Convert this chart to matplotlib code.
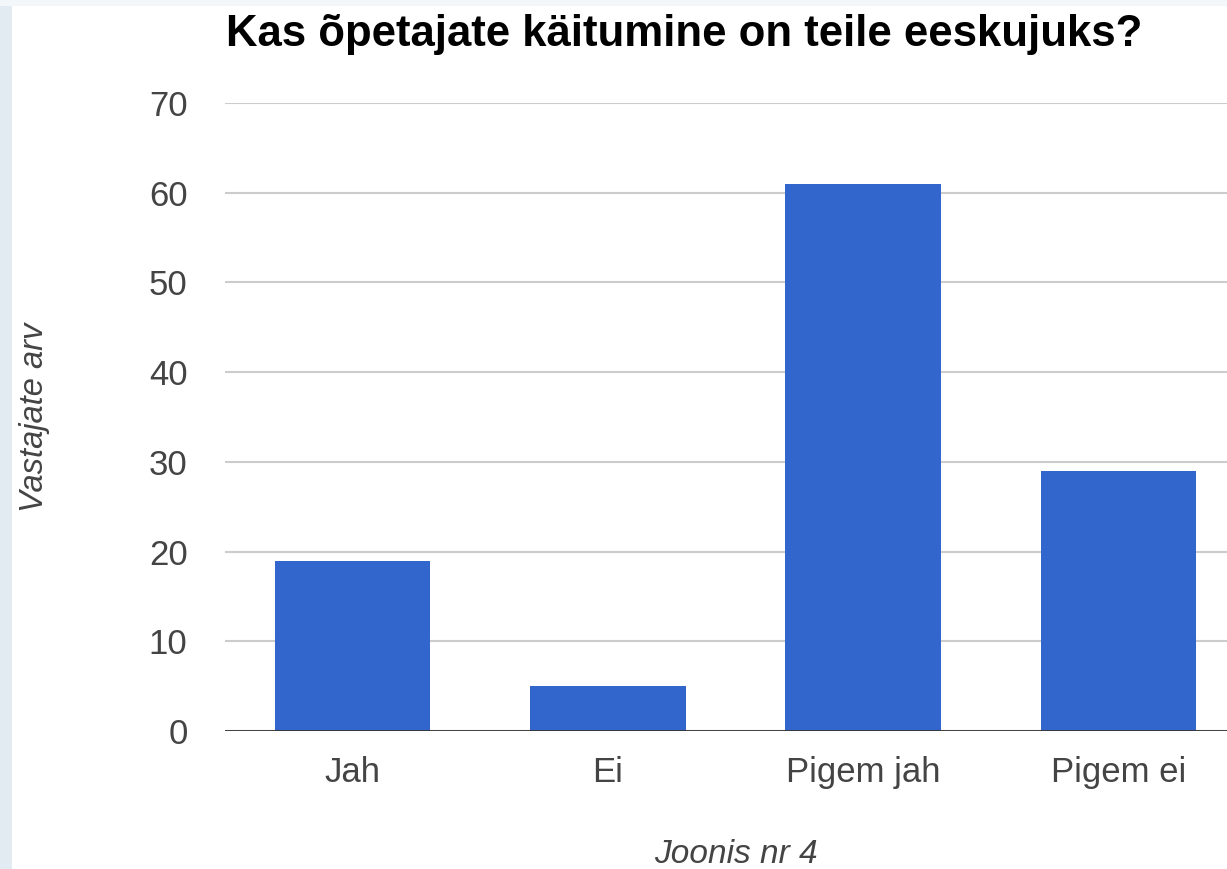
import matplotlib.pyplot as plt
from matplotlib.patches import Rectangle

plt.rcParams['font.family'] = ['Liberation Sans', 'DejaVu Sans']

categories = ['Jah', 'Ei', 'Pigem jah', 'Pigem ei']
values = [19, 5, 61, 29]
yticks = [0, 10, 20, 30, 40, 50, 60, 70]

fig = plt.figure(figsize=(12.27, 8.69), dpi=100)
fig.patch.set_facecolor('white')

# light screenshot edges
fig.patches.append(Rectangle((0, 0), 12 / 1227, 1, transform=fig.transFigure,
                             facecolor='#e1ebf1', edgecolor='none', zorder=0))
fig.patches.append(Rectangle((0, 1 - 6 / 869), 1, 6 / 869, transform=fig.transFigure,
                             facecolor='#f4f7f9', edgecolor='none', zorder=0))

# axes runs past the right edge, like the cropped screenshot
left = 225 / 1227
bottom = 1 - 731 / 869
width = 1021 / 1227
height = 628 / 869
ax = fig.add_axes([left, bottom, width, height])

x = range(len(categories))
ax.bar(x, values, width=0.61, color='#3366cc', zorder=3)

ax.set_xlim(-0.5, len(categories) - 0.5)
ax.set_ylim(0, 70)
ax.set_yticks(yticks)
ax.set_xticks(list(x))
ax.set_xticklabels(categories)

ax.grid(axis='y', color='#cccccc', linewidth=1.5, zorder=0)
ax.axhline(0, color='#333333', linewidth=2, zorder=4)
for s in ax.spines.values():
    s.set_visible(False)
ax.tick_params(axis='both', length=0, labelsize=25, colors='#444444')
ax.tick_params(axis='y', pad=27)
ax.tick_params(axis='x', pad=18)

ax.set_ylabel('Vastajate arv', fontsize=23.5, style='italic', color='#444444')
ax.yaxis.set_label_coords(-0.171, 0.5)
ax.set_xlabel('Joonis nr 4', fontsize=24, style='italic', color='#444444', labelpad=36)

fig.text(226 / 1227, 1 - 46 / 869, 'Kas õpetajate käitumine on teile eeskujuks?',
         fontsize=31.5, fontweight='bold', color='black', ha='left', va='baseline')

plt.savefig('out.png', dpi=100)
